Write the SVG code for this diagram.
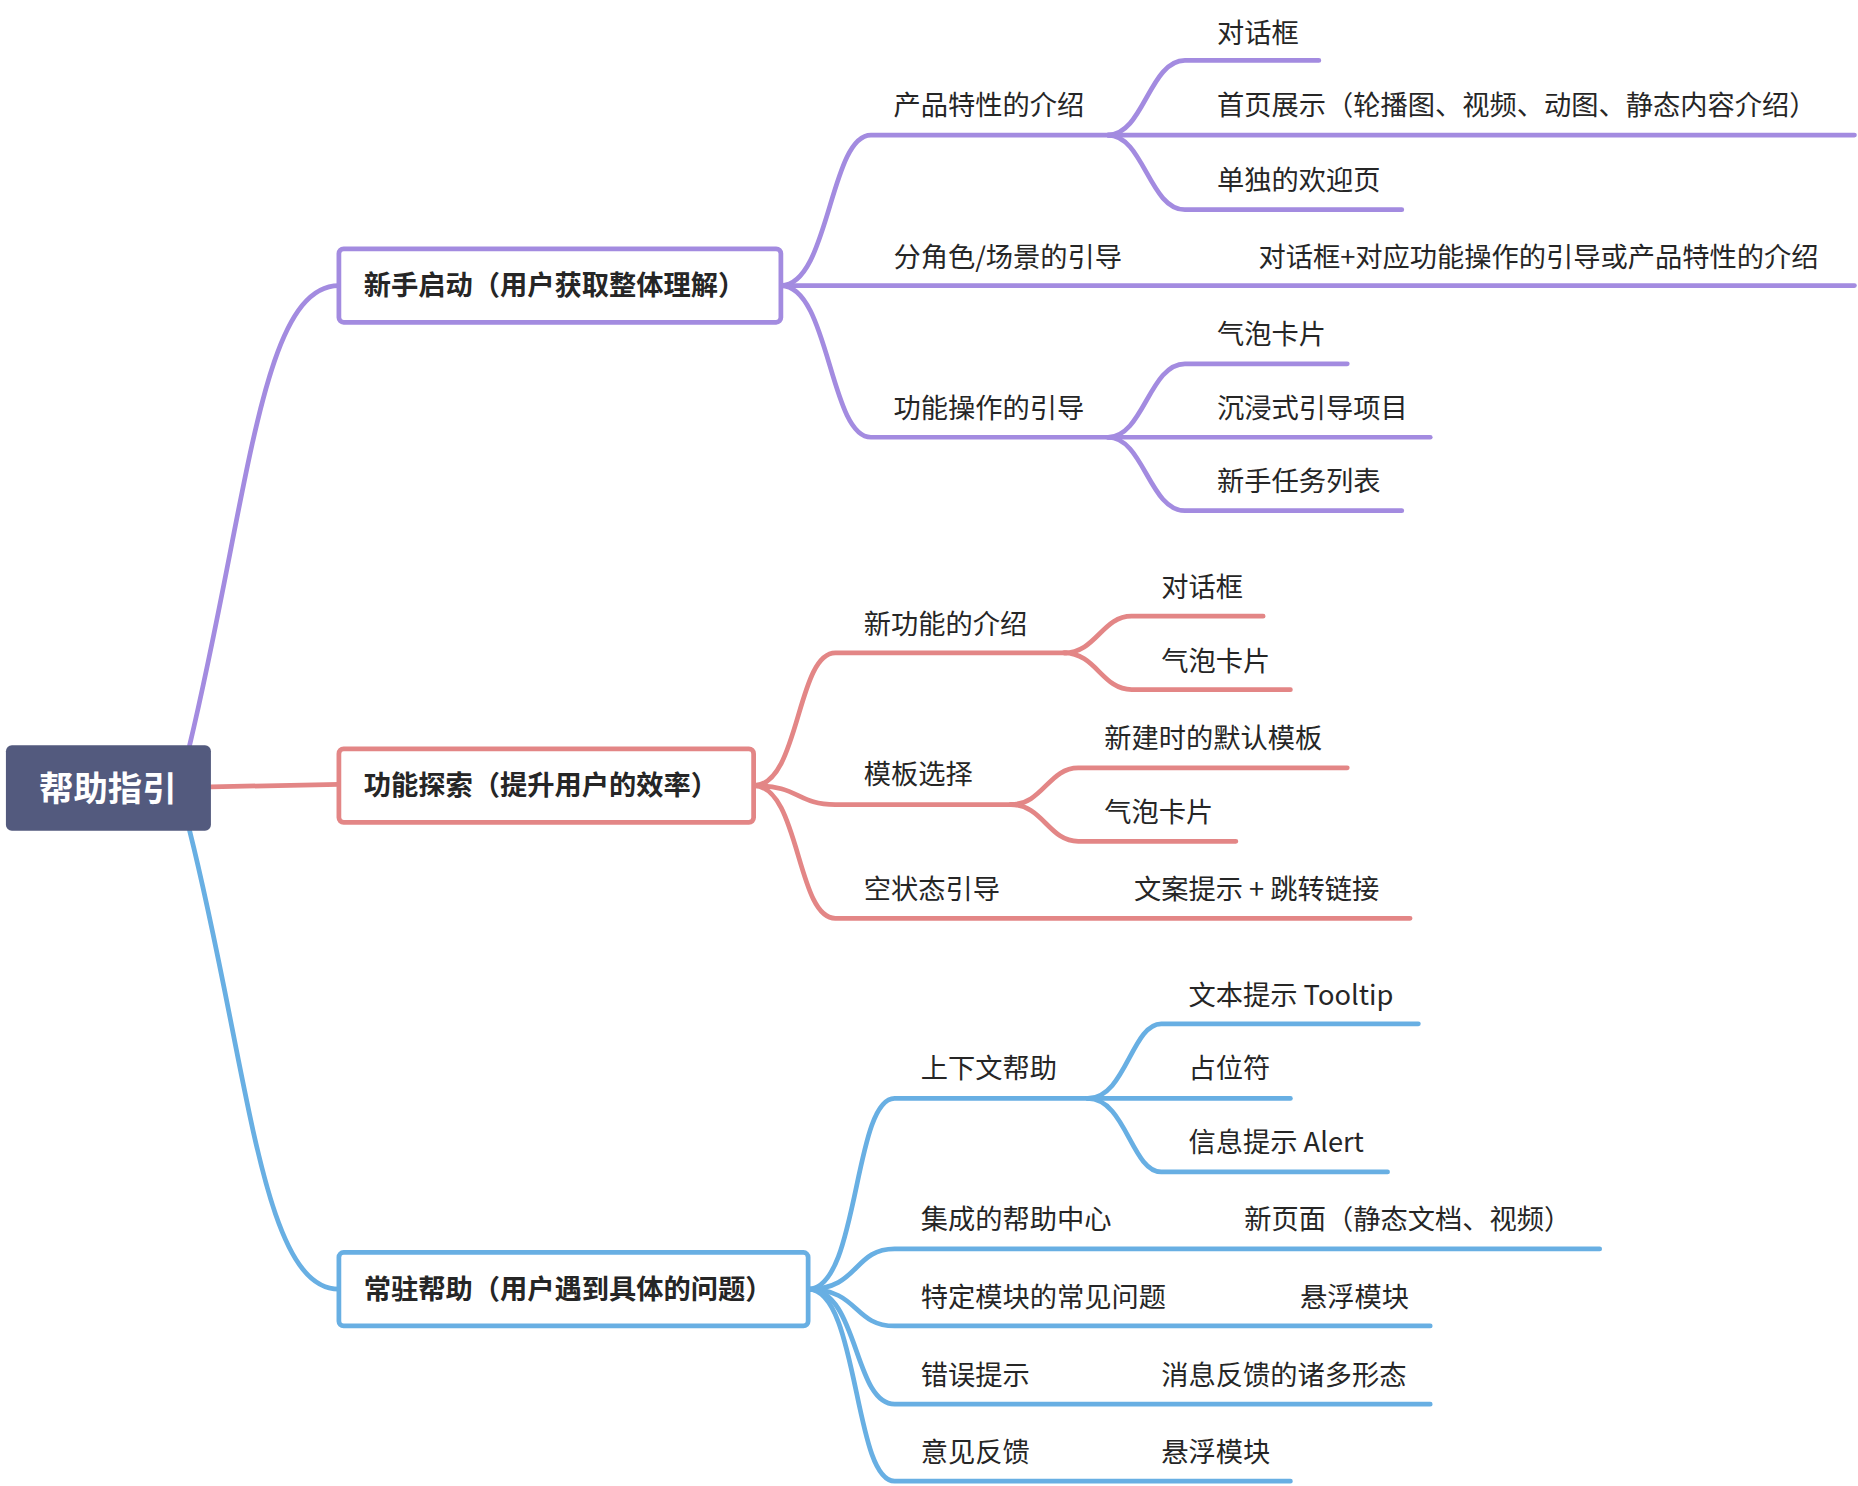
<svg xmlns="http://www.w3.org/2000/svg" width="1858" height="1486" viewBox="0 0 1858 1486">
<style>
text{font-family:"Noto Sans CJK SC","Noto Sans",sans-serif;font-size:23px;fill:#262626}
.b{font-weight:bold}
.l{fill:none;stroke-width:4;stroke-linecap:round}
.p{stroke:#a38be0}.c{stroke:#e38686}.u{stroke:#68afe3}
.box{fill:#fff;stroke-width:4}
</style>
<rect width="1858" height="1486" fill="#fff"/>
<g transform="scale(1.18495)">
<g id="connectors">
<path class="l p" d="M160,629 C210,420 220,241 286,241"/>
<path class="l c" d="M178,664 L286,662"/>
<path class="l u" d="M160,701 C210,900 220,1088 286,1088"/>
<path class="l p" d="M659,241 C700,241 700,114 735,114 L940,114"/>
<path class="l p" d="M659,241 L1565,241"/>
<path class="l p" d="M659,241 C700,241 700,369 735,369 L940,369"/>
<path class="l p" d="M935,114 C965,114 970,51 1000,51 L1113,51"/>
<path class="l p" d="M935,114 L1565,114"/>
<path class="l p" d="M935,114 C965,114 970,177 1000,177 L1183,177"/>
<path class="l p" d="M935,369 C965,369 970,307 1000,307 L1137,307"/>
<path class="l p" d="M935,369 L1207,369"/>
<path class="l p" d="M935,369 C965,369 970,431 1000,431 L1183,431"/>
<path class="l c" d="M636,663 C675,663 672,551 705,551 L900,551"/>
<path class="l c" d="M636,663 C675,663 672,679 705,679 L855,679"/>
<path class="l c" d="M636,663 C675,663 672,775 705,775 L1190,775"/>
<path class="l c" d="M898,551 C925,551 930,520 955,520 L1066,520"/>
<path class="l c" d="M898,551 C925,551 930,582 955,582 L1089,582"/>
<path class="l c" d="M853,679 C880,679 885,648 910,648 L1137,648"/>
<path class="l c" d="M853,679 C880,679 885,710 910,710 L1043,710"/>
<path class="l u" d="M682,1088 C725,1088 720,927 755,927 L920,927"/>
<path class="l u" d="M682,1088 C725,1088 720,1054 755,1054 L1350,1054"/>
<path class="l u" d="M682,1088 C725,1088 720,1119 755,1119 L1207,1119"/>
<path class="l u" d="M682,1088 C725,1088 720,1185 755,1185 L1207,1185"/>
<path class="l u" d="M682,1088 C725,1088 720,1250 755,1250 L1089,1250"/>
<path class="l u" d="M918,927 C950,927 955,864 980,864 L1197,864"/>
<path class="l u" d="M918,927 L1089,927"/>
<path class="l u" d="M918,927 C950,927 955,989 980,989 L1171,989"/>
</g>
<g id="root"><rect x="5" y="629" width="173" height="72" rx="5" fill="#535a7e"/><text class="b" x="91" y="676" text-anchor="middle" style="fill:#fff;font-size:29px">帮助指引</text></g>
<g id="n1"><rect class="box p" x="286" y="210" width="373" height="62" rx="4"/><text class="b" x="307" y="249">新手启动（用户获取整体理解）</text></g>
<g id="n2"><rect class="box c" x="286" y="632" width="350" height="62" rx="4"/><text class="b" x="307" y="671">功能探索（提升用户的效率）</text></g>
<g id="n3"><rect class="box u" x="286" y="1057" width="396" height="62" rx="4"/><text class="b" x="307" y="1096">常驻帮助（用户遇到具体的问题）</text></g>
<g id="labels">
<text x="754" y="97">产品特性的介绍</text>
<text x="1027" y="36">对话框</text>
<text x="1027" y="97">首页展示（轮播图、视频、动图、静态内容介绍）</text>
<text x="1027" y="160">单独的欢迎页</text>
<text x="754" y="225">分角色/场景的引导</text>
<text x="1062" y="225">对话框+对应功能操作的引导或产品特性的介绍</text>
<text x="754" y="353">功能操作的引导</text>
<text x="1027" y="290">气泡卡片</text>
<text x="1027" y="353">沉浸式引导项目</text>
<text x="1027" y="414">新手任务列表</text>
<text x="729" y="535">新功能的介绍</text>
<text x="980" y="504">对话框</text>
<text x="980" y="566">气泡卡片</text>
<text x="729" y="662">模板选择</text>
<text x="932" y="631">新建时的默认模板</text>
<text x="932" y="694">气泡卡片</text>
<text x="729" y="759">空状态引导</text>
<text x="957" y="759">文案提示 + 跳转链接</text>
<text x="777" y="910">上下文帮助</text>
<text x="1003" y="848">文本提示 Tooltip</text>
<text x="1003" y="910">占位符</text>
<text x="1003" y="972">信息提示 Alert</text>
<text x="777" y="1037">集成的帮助中心</text>
<text x="1050" y="1037">新页面（静态文档、视频）</text>
<text x="777" y="1103">特定模块的常见问题</text>
<text x="1097" y="1103">悬浮模块</text>
<text x="777" y="1169">错误提示</text>
<text x="980" y="1169">消息反馈的诸多形态</text>
<text x="777" y="1234">意见反馈</text>
<text x="980" y="1234">悬浮模块</text>
</g>
</g>
</svg>
